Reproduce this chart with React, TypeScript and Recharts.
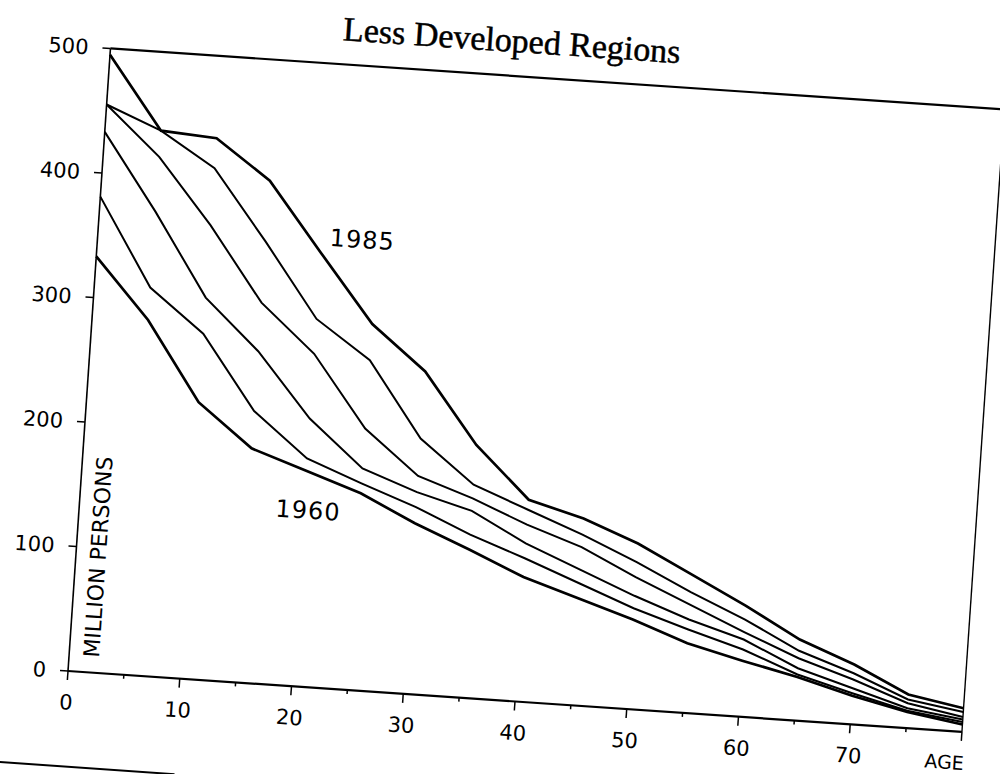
import { Label, Line, LineChart, ReferenceDot, ReferenceLine, XAxis, YAxis } from "recharts"

// start age of each 5-year age group
const ages = [0, 5, 10, 15, 20, 25, 30, 35, 40, 45, 50, 55, 60, 65, 70, 75, 80]

// million persons in each age group, less developed regions
const pop1960 = [333, 285, 222, 188, 173, 158, 137, 119, 100, 86, 72, 56, 45, 35, 23, 13, 6]
const pop1965 = [381, 311, 277, 218, 183, 166, 150, 131, 115, 98, 81, 67, 54, 37, 25, 14, 8]
const pop1970 = [433, 372, 306, 266, 215, 178, 162, 150, 127, 109, 91, 75, 62, 42, 29, 16, 10]
const pop1975 = [455, 416, 364, 305, 267, 210, 175, 160, 142, 127, 106, 87, 68, 50, 36, 20, 12]
const pop1980 = [455, 437, 410, 354, 295, 265, 205, 171, 154, 137, 118, 97, 78, 56, 41, 23, 16]
const pop1985 = [495, 437, 434, 403, 348, 294, 259, 203, 162, 150, 133, 111, 89, 65, 48, 27, 19]

const xTicks = [0, 5, 10, 15, 20, 25, 30, 35, 40, 45, 50, 55, 60, 65, 70, 75, 80]
const yTicks = [0, 100, 200, 300, 400, 500]

const chartData = ages.map((age, i) => ({
  age,
  y1960: pop1960[i],
  y1965: pop1965[i],
  y1970: pop1970[i],
  y1975: pop1975[i],
  y1980: pop1980[i],
  y1985: pop1985[i],
}))

// layout of the (unrotated) chart
const W = 1000
const H = 760
const PL = 100
const PT = 60
const PW = 896
const PH = 624
const AXIS_Y = PT + PH
const SANS = "DejaVu Sans"

function AgeTick(props: any) {
  const { x, payload } = props
  const v = payload.value
  const major = v % 10 === 0
  const last = v === 80
  return (
    <g>
      <line x1={x} x2={x} y1={AXIS_Y} y2={AXIS_Y + (major ? 9 : 4)} stroke="#000" strokeWidth={1.5} />
      {major && (
        <text
          x={last ? x + 4 : x}
          y={AXIS_Y + 31}
          dy="0.36em"
          textAnchor={last ? "end" : "middle"}
          fontSize={last ? 19 : 21}
          fontFamily={SANS}
          fill="#000"
        >
          {last ? "AGE" : v}
        </text>
      )}
    </g>
  )
}

export default function App() {
  return (
    <div style={{ position: "fixed", left: 0, top: 0, width: 1000, height: 774, overflow: "hidden", background: "#fff" }}>
      <div
        style={{
          position: "absolute",
          left: 67.5 - PL,
          top: 671 - AXIS_Y,
          width: W,
          height: H,
          transform: "rotate(3.9deg)",
          transformOrigin: `${PL}px ${AXIS_Y}px`,
        }}
      >
        <div
          style={{
            position: "absolute",
            left: 0,
            top: 6,
            width: 2 * (PL + 400),
            textAlign: "center",
            fontFamily: "Liberation Serif",
            fontSize: 34,
            lineHeight: "38px",
            color: "#000",
            WebkitTextStroke: "0.5px #000",
            zIndex: 1,
          }}
        >
          Less Developed Regions
        </div>
        <LineChart
          width={W}
          height={H}
          data={chartData}
          margin={{ top: PT, right: W - PL - PW, bottom: H - AXIS_Y - 40, left: PL - 60 }}
        >
          <XAxis
            dataKey="age"
            type="number"
            domain={[0, 80]}
            ticks={xTicks}
            interval={0}
            height={40}
            tickLine={false}
            axisLine={{ stroke: "#000", strokeWidth: 2.2 }}
            tick={<AgeTick />}
          />
          <YAxis
            type="number"
            domain={[0, 500]}
            ticks={yTicks}
            interval={0}
            width={60}
            tickSize={8}
            tickMargin={14}
            tickLine={{ stroke: "#000", strokeWidth: 1.5 }}
            axisLine={{ stroke: "#000", strokeWidth: 1.6 }}
            tick={{ fontSize: 21, fill: "#000", fontFamily: SANS }}
          >
            <Label
              content={() => (
                <text
                  x={PL + 30}
                  y={AXIS_Y - 15}
                  transform={`rotate(-90 ${PL + 30} ${AXIS_Y - 15})`}
                  fontSize={22}
                  fontFamily={SANS}
                  fill="#000"
                >
                  MILLION PERSONS
                </text>
              )}
            />
          </YAxis>
          <ReferenceLine y={500} stroke="#000" strokeWidth={2.2} />
          <ReferenceLine x={80} stroke="#000" strokeWidth={1.4} />
          <Line dataKey="y1960" type="linear" stroke="#000" strokeWidth={2.7} dot={false} isAnimationActive={false} />
          <Line dataKey="y1965" type="linear" stroke="#000" strokeWidth={2} dot={false} isAnimationActive={false} />
          <Line dataKey="y1970" type="linear" stroke="#000" strokeWidth={2} dot={false} isAnimationActive={false} />
          <Line dataKey="y1975" type="linear" stroke="#000" strokeWidth={2} dot={false} isAnimationActive={false} />
          <Line dataKey="y1980" type="linear" stroke="#000" strokeWidth={2} dot={false} isAnimationActive={false} />
          <Line dataKey="y1985" type="linear" stroke="#000" strokeWidth={2.7} dot={false} isAnimationActive={false} />
          <ReferenceDot
            x={23.6}
            y={361}
            r={0}
            fill="none"
            stroke="none"
            label={{ value: "1985", position: "center", fontSize: 24, fill: "#000", fontFamily: SANS, letterSpacing: 1 }}
          />
          <ReferenceDot
            x={20.4}
            y={141.7}
            r={0}
            fill="none"
            stroke="none"
            label={{ value: "1960", position: "center", fontSize: 24, fill: "#000", fontFamily: SANS, letterSpacing: 1 }}
          />
        </LineChart>
      </div>
      <div
        style={{
          position: "absolute",
          left: 0,
          top: 761,
          width: 175,
          borderTop: "2px solid #000",
          transform: "rotate(4deg)",
          transformOrigin: "0 0",
        }}
      />
    </div>
  )
}
